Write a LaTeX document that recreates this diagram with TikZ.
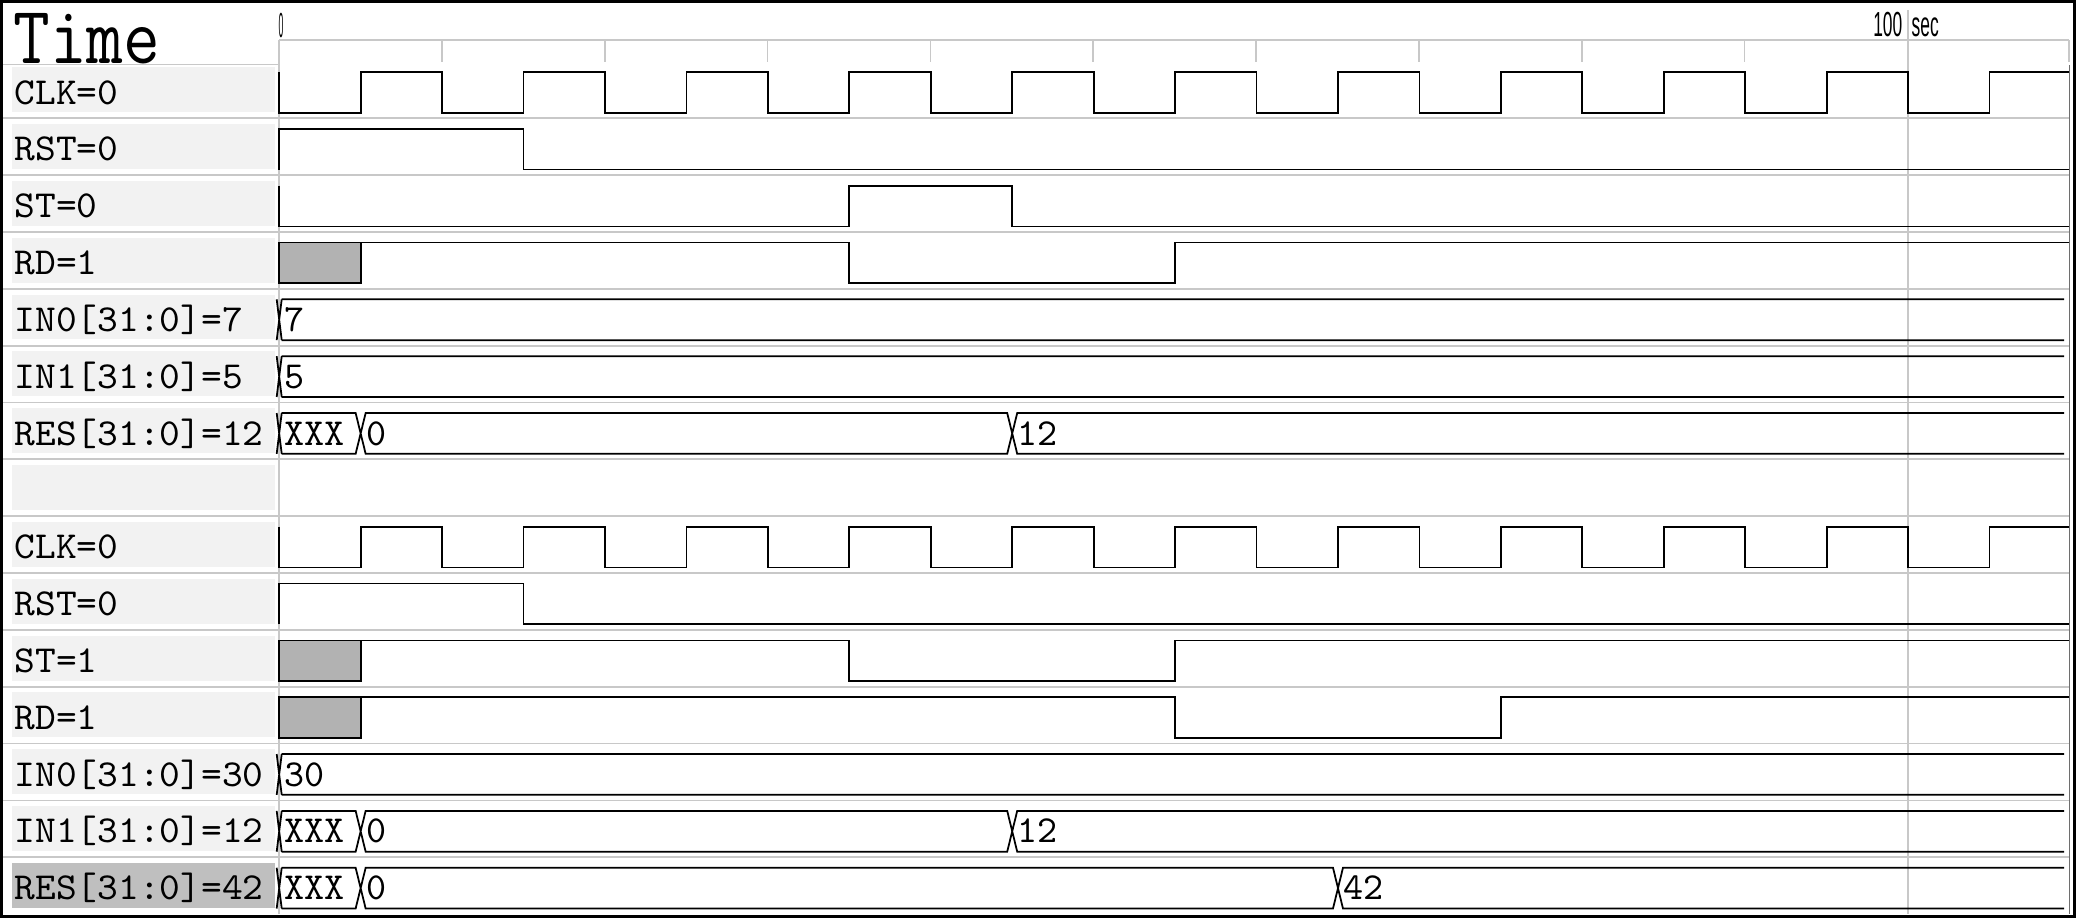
\documentclass[tikz,border=0pt]{standalone}
\usepackage{fontspec}
\newfontfamily\axisfam[FakeStretch=0.5]{Liberation Sans}
\definecolor{gridgray}{HTML}{C8C8C8}
\definecolor{lblgray}{HTML}{F2F2F2}
\definecolor{lbldark}{HTML}{BFBFBF}
\definecolor{xgray}{HTML}{B2B2B2}
\definecolor{edgegray}{HTML}{6E6E6E}
\newcommand\lblsize{\ttfamily\fontsize{10.85pt}{12pt}\selectfont}
\newcommand\timesize{\ttfamily\fontsize{23.3pt}{26pt}\selectfont}
\newcommand\axsize{\axisfam\fontsize{9.9pt}{11pt}\selectfont}
\tikzset{
  wave/.style={shift={(279.2,{61.46+56.84*#1})}, x=0.1628cm},
  sig/.style={line width=0.5pt, black, line join=miter},
  gridln/.style={line width=0.5pt, gridgray},
  lbltext/.style={anchor=base west, inner sep=0pt, font=\lblsize},
  bustext/.style={anchor=base west, inner sep=0pt, font=\lblsize},
  axtext/.style={inner sep=0pt, font=\axsize},
  xbox/.style={fill=xgray, draw=black, line width=0.5pt},
}
\newcommand\busone[3]{%
  \begin{scope}[wave=#1]
    \draw[sig] (-\bdz,\yH) -- (\bdz,\yL) (-\bdz,\yL) -- (\bdz,\yH)
      (\bdz,\yH) -- (\bend,\yH) (\bdz,\yL) -- (\bend,\yL);
    \node[bustext] (#3) at (\btx,\byT) {#2};
  \end{scope}}
\newcommand\busthree[4]{%
  \begin{scope}[wave=#1]
    \draw[sig] (-\bdz,\yH) -- (\bdz,\yL) (-\bdz,\yL) -- (\bdz,\yH)
      (\bdz,\yH) -- (5-\bdd,\yH) -- (5+\bdd,\yL) -- (#2-\bdd,\yL) -- (#2+\bdd,\yH) -- (\bend,\yH)
      (\bdz,\yL) -- (5-\bdd,\yL) -- (5+\bdd,\yH) -- (#2-\bdd,\yH) -- (#2+\bdd,\yL) -- (\bend,\yL);
    \node[bustext] (#4a) at (\btx,\byT) {XXX};
    \node[bustext] (#4b) at (5+\btx,\byT) {0};
    \node[bustext] (#4c) at (#2+\btx,\byT) {#3};
  \end{scope}}
\newcommand\clockrow[1]{%
  \begin{scope}[wave=#1]
    \draw[sig] (0,\yH) -- (0,\yL)
      \foreach \k in {0,10,...,90}{ -- (\k+5,\yL) -- (\k+5,\yH) -- (\k+10,\yH) -- (\k+10,\yL)}
      -- (105,\yL) -- (105,\yH) -- (\tendb,\yH);
  \end{scope}}
\newcommand\rstrow[1]{%
  \begin{scope}[wave=#1]
    \draw[sig] (0,\yL) -- (0,\yH) -- (15,\yH) -- (15,\yL) -- (\tendb,\yL);
  \end{scope}}
\begin{document}
\begin{tikzpicture}[x=0.01cm,y=-0.01cm]
\def\yH{10.5}\def\yL{51.3}\def\byT{42.5}
\def\bdz{0.154}\def\bdd{0.307}\def\bend{109.57}\def\tendb{109.88}\def\btx{0.3}
\useasboundingbox (0,0) rectangle (2076,920);
\fill[white] (0,0) rectangle (2076,920);
% label boxes and texts
\foreach \i/\txt in {0/CLK=0,1/RST=0,2/ST=0,3/RD=1,4/IN0[31:0]=7,5/IN1[31:0]=5,6/RES[31:0]=12,7/,8/CLK=0,9/RST=0,10/ST=1,11/RD=1,12/IN0[31:0]=30,13/IN1[31:0]=12}{
  \fill[lblgray] (11.7,{61.46+56.84*\i+5.7}) rectangle (275,{61.46+56.84*(\i+1)-6.2});
  \node[lbltext] (lbl\i) at (14,{61.46+56.84*(\i+1)-14.3}) {\scalebox{1.035}[1]{\txt}};
}
\fill[lbldark] (11.7,{61.46+56.84*14+5.7}) rectangle (275,{61.46+56.84*15-6.2});
\node[lbltext] (lbl14) at (14,{61.46+56.84*15-14.3}) {\scalebox{1.035}[1]{RES[31:0]=42}};
% grid
\foreach \i in {1,...,14}{
  \draw[gridln] (3,{61.46+56.84*\i}) -- (2069,{61.46+56.84*\i});
}
\draw[gridln] (3,64.5) -- (279,64.5);
\draw[gridln] (279,40) -- (279,914);
\draw[gridln] (279,40) -- (2069.3,40);
\foreach \t in {10,20,...,90}{
  \draw[gridln] ({279.2+16.28*\t},40) -- ++(0,22);
}
\draw[gridln] (2069.3,40) -- (2069.3,62);
\draw[gridln] (1908.3,10) -- (1908.3,914);
\draw[line width=0.4pt, edgegray] (2069.3,65) -- (2069.3,914);
% header texts
\node[anchor=base west, inner sep=0pt, font=\timesize] (title) at (12.7,63.3) {\scalebox{0.87}[1]{Time}};
\node[axtext, anchor=base] (ax0) at (281,37) {\scalebox{0.5}[1]{0}};
\node[axtext, anchor=base east] (ax100) at (1903,36.5) {100};
\node[axtext, anchor=base west] (axsec) at (1911,36.5) {sec};
% top group
\clockrow{0}
\rstrow{1}
\begin{scope}[wave=2]
  \draw[sig] (0,\yH) -- (0,\yL) -- (35,\yL) -- (35,\yH) -- (45,\yH) -- (45,\yL) -- (\tendb,\yL);
\end{scope}
\begin{scope}[wave=3]
  \draw[xbox] (0,\yH) rectangle (5,\yL);
  \draw[sig] (5,\yH) -- (35,\yH) -- (35,\yL) -- (55,\yL) -- (55,\yH) -- (\tendb,\yH);
\end{scope}
\busone{4}{7}{v4}
\busone{5}{5}{v5}
\busthree{6}{45}{12}{v6}
% bottom group
\clockrow{8}
\rstrow{9}
\begin{scope}[wave=10]
  \draw[xbox] (0,\yH) rectangle (5,\yL);
  \draw[sig] (5,\yH) -- (35,\yH) -- (35,\yL) -- (55,\yL) -- (55,\yH) -- (\tendb,\yH);
\end{scope}
\begin{scope}[wave=11]
  \draw[xbox] (0,\yH) rectangle (5,\yL);
  \draw[sig] (5,\yH) -- (55,\yH) -- (55,\yL) -- (75,\yL) -- (75,\yH) -- (\tendb,\yH);
\end{scope}
\busone{12}{30}{v12}
\busthree{13}{45}{12}{v13}
\busthree{14}{65}{42}{v14}
% frame
\draw[line width=0.9pt] (1.5,1.5) rectangle (2074.5,916.5);
\end{tikzpicture}
\end{document}
